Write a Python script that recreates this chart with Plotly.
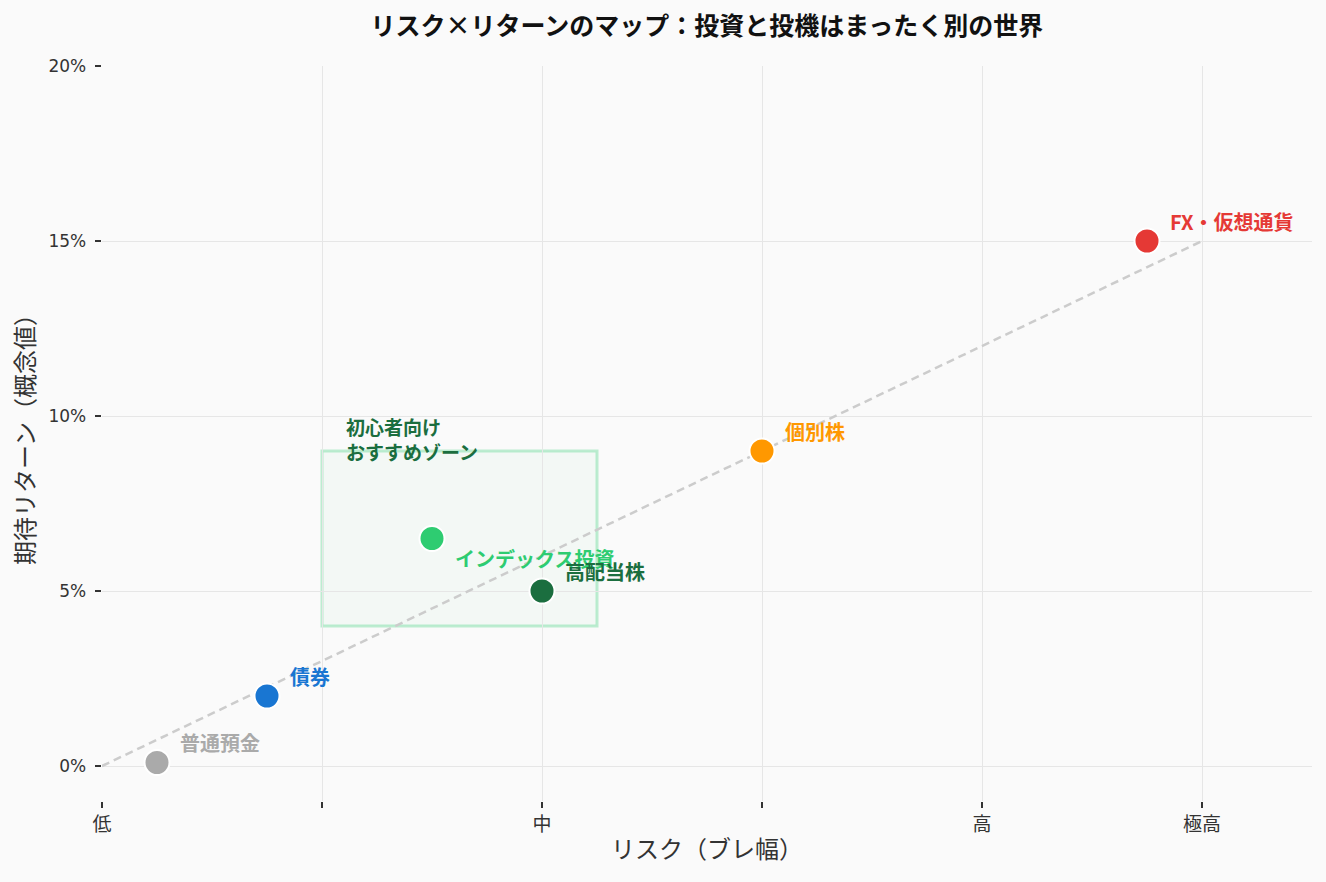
import plotly.graph_objects as go

names = ["普通預金", "債券", "インデックス投資", "高配当株", "個別株", "FX・仮想通貨"]
risk = [0.25, 0.75, 1.5, 2.0, 3.0, 4.75]
ret = [0.1, 2.0, 6.5, 5.0, 9.0, 15.0]
colors = ["#aaaaaa", "#1976d2", "#2ecc71", "#1b6e3f", "#ff9800", "#e53935"]
label_dy = [20, 20, -20, 20, 20, 20]

trend_x = [0, 5]
trend_y = [0, 15]

zone_x = [1.0, 2.25]
zone_y = [4.0, 9.0]

xtick_vals = [0, 1, 2, 3, 4, 5]
xtick_text = ["低", "", "中", "", "高", "極高"]
ytick_vals = [0, 5, 10, 15, 20]
ytick_text = ["0%", "5%", "10%", "15%", "20%"]

FONT = "Noto Sans CJK JP"

fig = go.Figure()

fig.add_shape(type="rect", x0=zone_x[0], x1=zone_x[1], y0=zone_y[0], y1=zone_y[1],
              fillcolor="rgba(46,204,113,0.035)", line=dict(color="rgba(46,204,113,0.3)", width=3),
              layer="below")

fig.add_trace(go.Scatter(x=trend_x, y=trend_y, mode="lines",
                         line=dict(color="#cccccc", width=2.5, dash="8px,5px"),
                         hoverinfo="skip", showlegend=False))

fig.add_trace(go.Scatter(x=risk, y=ret, mode="markers",
                         marker=dict(size=25, color=colors, line=dict(color="white", width=2)),
                         text=names, showlegend=False))

for n, x, y, c, dy in zip(names, risk, ret, colors, label_dy):
    fig.add_annotation(x=x, y=y, text=f"<b>{n}</b>", showarrow=False,
                       xanchor="left", yanchor="middle", xshift=21, yshift=dy,
                       font=dict(family=FONT, size=20, color=c))

fig.add_annotation(x=1.1, y=9.34, text="<b>初心者向け<br>おすすめゾーン</b>", showarrow=False,
                   xanchor="left", yanchor="middle", align="left",
                   font=dict(family=FONT, size=19, color="#1b6e3f"))

fig.update_layout(
    width=1326, height=882,
    paper_bgcolor="#fafafa", plot_bgcolor="#fafafa",
    margin=dict(l=102, r=14, t=66, b=81),
    font=dict(family=FONT, size=19, color="#222222"),
    title=dict(text="<b>リスク×リターンのマップ：投資と投機はまったく別の世界</b>",
               x=0.5, xref="paper", y=0.9705, yref="container", xanchor="center", yanchor="middle",
               font=dict(family=FONT, size=25, color="#111111")),
    xaxis=dict(range=[0, 5.5], tickvals=xtick_vals, ticktext=xtick_text,
               showgrid=True, gridcolor="#e6e6e6", gridwidth=1, zeroline=False, showline=False,
               ticks="outside", ticklen=6, tickwidth=2, tickcolor="#333333",
               title=dict(text="リスク（ブレ幅）", font=dict(size=24, color="#333333"), standoff=6),
               tickfont=dict(size=19, color="#333333")),
    yaxis=dict(range=[-1, 20], tickvals=ytick_vals, ticktext=[t + "\u00a0" for t in ytick_text],
               showgrid=True, gridcolor="#e6e6e6", gridwidth=1, zeroline=False, showline=False,
               ticks="outside", ticklen=6, tickwidth=2, tickcolor="#333333",
               title=dict(text="期待リターン（概念値）", font=dict(family=FONT, size=24, color="#333333"), standoff=6),
               tickfont=dict(family="DejaVu Sans", size=17, color="#333333")),
)

fig.write_html("out.html")
